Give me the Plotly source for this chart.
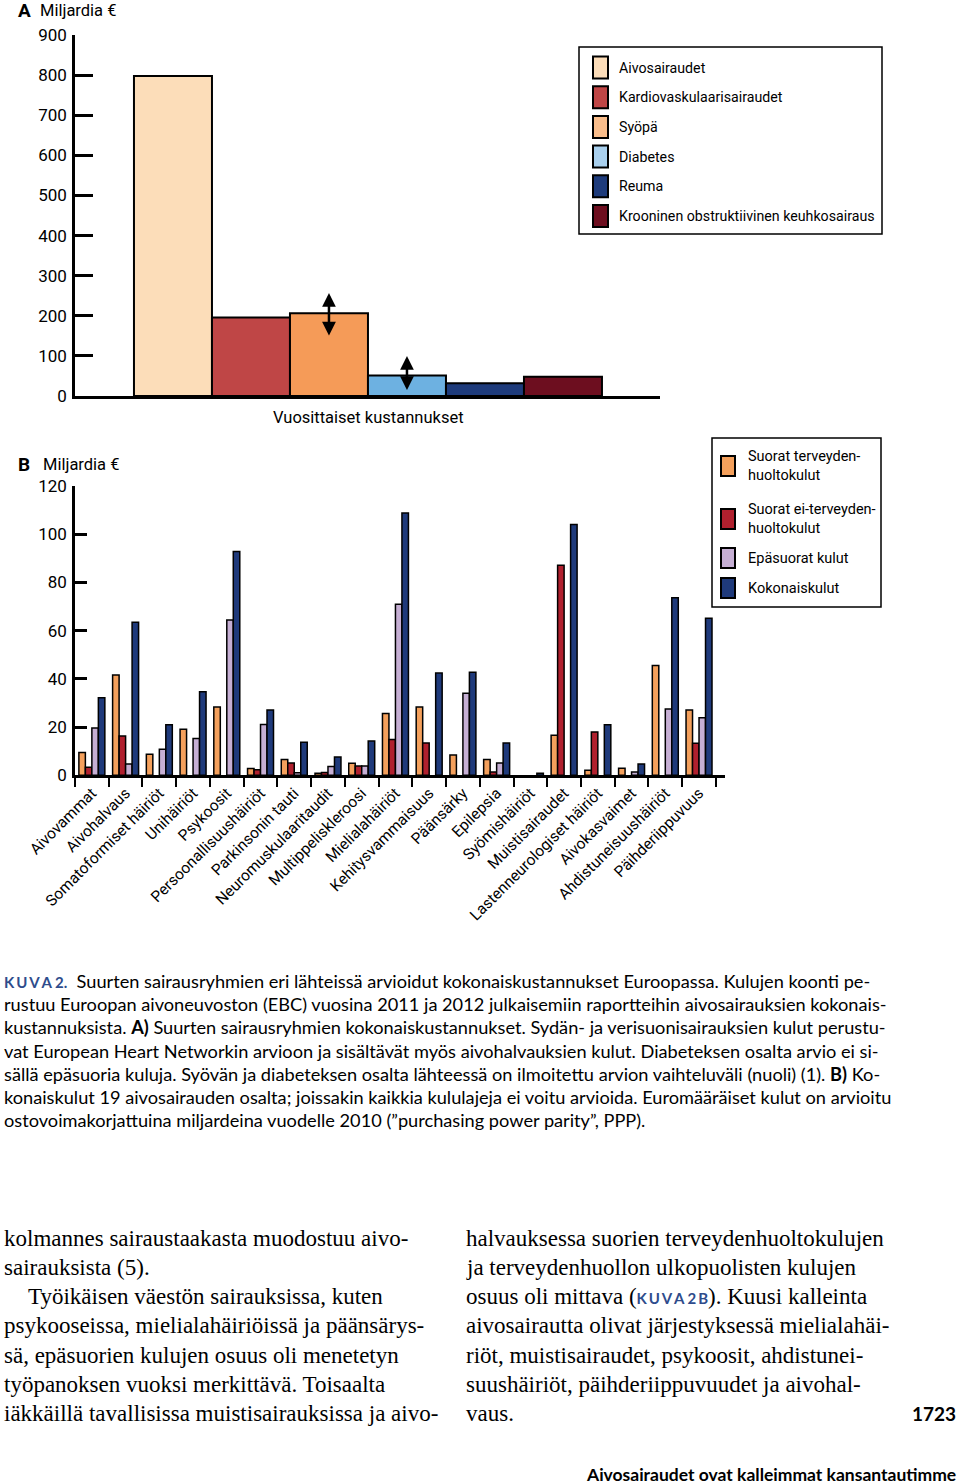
import plotly.graph_objects as go

# ---------------- DATA ----------------
# Panel A
groups_a = ["Aivosairaudet", "Kardiovaskulaarisairaudet", "Syöpä", "Diabetes", "Reuma",
            "Krooninen obstruktiivinen keuhkosairaus"]
annual_costs_a = [798, 196, 206, 51, 32, 48]
range_low_a = [None, None, 147, 11, None, None]
range_high_a = [None, None, 257, 100, None, None]
yticks_a = [0, 100, 200, 300, 400, 500, 600, 700, 800, 900]

# Panel B
categories_b = ["Aivovammat", "Aivohalvaus", "Somatoformiset häiriöt", "Unihäiriöt", "Psykoosit",
                "Persoonallisuushäiriöt", "Parkinsonin tauti", "Neuromuskulaaritaudit",
                "Multippeliskleroosi", "Mielialahäiriöt", "Kehitysvammaisuus", "Päänsärky",
                "Epilepsia", "Syömishäiriöt", "Muistisairaudet", "Lastenneurologiset häiriöt",
                "Aivokasvaimet", "Ahdistuneisuushäiriöt", "Päihderiippuvuus"]
series_b = ["Suorat terveyden-<br>huoltokulut", "Suorat ei-terveyden-<br>huoltokulut",
            "Epäsuorat kulut", "Kokonaiskulut"]
direct_health = [9.5, 41.6, 8.7, 19.1, 28.3, 2.8, 6.6, 0.9, 5.0, 25.6, 28.3, 8.4, 6.6, None,
                 16.6, 2.1, 2.9, 45.5, 27.1]
direct_nonhealth = [3.3, 16.3, None, None, None, 2.3, 5.1, 1.2, 3.9, 14.8, 13.4, None, 1.4, None,
                    87.1, 18.0, None, None, 13.3]
indirect = [19.6, 4.7, 10.8, 15.3, 64.4, 21.1, 1.1, 3.7, 3.9, 71.0, None, 34.0, 5.1, None,
            None, None, 1.4, 27.5, 23.9]
total = [32.2, 63.5, 21.0, 34.7, 92.8, 27.1, 13.7, 7.6, 14.2, 108.8, 42.4, 42.7, 13.4, 0.9,
         104.0, 21.0, 4.7, 73.6, 65.1]
yticks_b = [0, 20, 40, 60, 80, 100, 120]

T = "\u2009"
KUVA = "<b><span style='color:#2E4C8C;font-size:15px'>K" + T + "U" + T + "V" + T + "A " + "2.</span></b>"
caption_lines = [
    KUVA + "  Suurten sairausryhmien eri lähteissä arvioidut kokonaiskustannukset Euroopassa. Kulujen koonti pe-",
    "rustuu Euroopan aivoneuvoston (EBC) vuosina 2011 ja 2012 julkaisemiin raportteihin aivosairauksien kokonais-",
    "kustannuksista. <b>A)</b> Suurten sairausryhmien kokonaiskustannukset. Sydän- ja verisuonisairauksien kulut perustu-",
    "vat European Heart Networkin arvioon ja sisältävät myös aivohalvauksien kulut. Diabeteksen osalta arvio ei si-",
    "sällä epäsuoria kuluja. Syövän ja diabeteksen osalta lähteessä on ilmoitettu arvion vaihteluväli (nuoli) (1). <b>B)</b> Ko-",
    "konaiskulut 19 aivosairauden osalta; joissakin kaikkia kululajeja ei voitu arvioida. Euromääräiset kulut on arvioitu",
    "ostovoimakorjattuina miljardeina vuodelle 2010 (”purchasing power parity”, PPP).",
]
KUVA2B = ("<b><span style='color:#2E4C8C;font-family:Lato;font-size:15px'>K" + T + "U" + T + "V" + T
          + "A 2" + T + "B</span></b>")
body_left = [
    "kolmannes sairaustaakasta muodostuu aivo-",
    "sairauksista (5).",
    "Työikäisen väestön sairauksissa, kuten",
    "psykooseissa, mielialahäiriöissä ja päänsärys-",
    "sä, epäsuorien kulujen osuus oli menetetyn",
    "työpanoksen vuoksi merkittävä. Toisaalta",
    "iäkkäillä tavallisissa muistisairauksissa ja aivo-",
]
body_right = [
    "halvauksessa suorien terveydenhuoltokulujen",
    "ja terveydenhuollon ulkopuolisten kulujen",
    "osuus oli mittava (" + KUVA2B + "). Kuusi kalleinta",
    "aivosairautta olivat järjestyksessä mielialahäi-",
    "riöt, muistisairaudet, psykoosit, ahdistunei-",
    "suushäiriöt, päihderiippuvuudet ja aivohal-",
    "vaus.",
]

# ---------------- STYLE ----------------
W, H = 960, 1484
FC = "Roboto, Liberation Sans, sans-serif"
FCAP = "Lato, Open Sans, sans-serif"
FSERIF = "Liberation Serif, DejaVu Serif, serif"
colors_a = ["#FCDDB9", "#BF4646", "#F59B58", "#6DB1E1", "#1E3B7B", "#6D0E1F"]
legend_colors_a = ["#FCDDB9", "#BF4646", "#F9BD8B", "#A9D0EE", "#1E3B7B", "#6D0E1F"]
colors_b = ["#F4A05C", "#B0202E", "#C6AFD4", "#1F3A7B"]


def px(x):
    return x / W


def py(y):
    return 1 - y / H


fig = go.Figure()

# Panel A bars
fig.add_trace(go.Bar(
    x=list(range(len(groups_a))), y=annual_costs_a, width=1,
    marker=dict(color=colors_a, line=dict(color="black", width=2)),
    xaxis="x", yaxis="y", showlegend=False, hoverinfo="skip",
))

# Panel B bars
for name, vals, col in zip(series_b, [direct_health, direct_nonhealth, indirect, total], colors_b):
    fig.add_trace(go.Bar(
        x=categories_b, y=vals, name=name,
        marker=dict(color=col, line=dict(color="black", width=1.5)),
        xaxis="x2", yaxis="y2", showlegend=False, hoverinfo="skip",
    ))

annotations = []
shapes = []

# arrows (ranges) in panel A
for i, (lo, hi) in enumerate(zip(range_low_a, range_high_a)):
    if lo is None:
        continue
    annotations.append(dict(
        x=i, y=hi, ax=i, ay=lo, xref="x", yref="y", axref="x", ayref="y",
        text="", showarrow=True, arrowhead=2, arrowside="end+start",
        arrowsize=1.1, arrowwidth=2.5, arrowcolor="black",
    ))


def txt(x, y, s, size=16, family=FC, xanchor="left", color="black", yanchor="middle"):
    annotations.append(dict(x=px(x), y=py(y), xref="paper", yref="paper", text=s,
                            showarrow=False, xanchor=xanchor, yanchor=yanchor, align="left",
                            font=dict(family=family, size=size, color=color)))


txt(16, 11, "<b>A</b>", size=19)
txt(38, 11, "Miljardia €", size=16.5)
txt(368, 417, "Vuosittaiset kustannukset", size=16.5, xanchor="center")
txt(16, 464, "<b>B</b>", size=19)
txt(41, 464, "Miljardia €", size=16.5)

# Legend A
shapes.append(dict(type="rect", xref="paper", yref="paper", x0=px(579), x1=px(882),
                   y0=py(47), y1=py(234), line=dict(color="black", width=1.5)))
for k, (name, col) in enumerate(zip(groups_a, legend_colors_a)):
    cy = 67.5 + k * 29.7
    shapes.append(dict(type="rect", xref="paper", yref="paper", x0=px(593), x1=px(608),
                       y0=py(cy - 11), y1=py(cy + 11), fillcolor=col,
                       line=dict(color="black", width=2)))
    txt(617, cy, name, size=14.2)

# Legend B
shapes.append(dict(type="rect", xref="paper", yref="paper", x0=px(712), x1=px(881),
                   y0=py(438), y1=py(607), line=dict(color="black", width=1.5)))
leg_b_centers = [466, 519, 558, 588]
for name, col, cy in zip(series_b, colors_b, leg_b_centers):
    shapes.append(dict(type="rect", xref="paper", yref="paper", x0=px(721), x1=px(735),
                       y0=py(cy - 10), y1=py(cy + 10), fillcolor=col,
                       line=dict(color="black", width=2)))
    txt(746, cy, name, size=14.5)

# Caption
for i, line in enumerate(caption_lines):
    txt(2, 981 + i * 23.2, line, size=18.2, family=FCAP)

# Body text
for i, line in enumerate(body_left):
    x0 = 26 if i == 2 else 2
    txt(x0, 1238 + i * 29.3, line, size=23, family=FSERIF)
for i, line in enumerate(body_right):
    txt(464, 1238 + i * 29.3, line, size=23, family=FSERIF)

txt(958, 1413, "<b>1723</b>", size=19, family=FCAP, xanchor="right")
txt(958, 1474, "<b>Aivosairaudet ovat kalleimmat kansantautimme</b>", size=17.5,
    family=FCAP, xanchor="right")

fig.update_layout(
    width=W, height=H, margin=dict(l=0, r=0, t=0, b=0),
    paper_bgcolor="white", plot_bgcolor="white",
    barmode="group", bargap=0.23, bargroupgap=0,
    font=dict(family=FC, size=16, color="black"),
    xaxis=dict(domain=[px(75), px(660)], range=[-1.256, 6.244], anchor="y",
               showline=True, linecolor="black", linewidth=2.5, showticklabels=False,
               ticks="", showgrid=False, zeroline=False, fixedrange=True),
    yaxis=dict(domain=[py(396), py(35)], range=[0, 900], anchor="x",
               tickvals=yticks_a, showline=True, linecolor="black", linewidth=2.5,
               ticks="inside", ticklen=18, tickwidth=2.5, tickcolor="black",
               tickfont=dict(family=FC, size=17), ticklabelstandoff=2,
               showgrid=False, zeroline=False, automargin=False),
    xaxis2=dict(domain=[px(75), px(725)], range=[-0.5, 18.77], anchor="y2",
                type="category", categoryorder="array", categoryarray=categories_b,
                showline=True, linecolor="black", linewidth=2.5,
                ticks="outside", tickson="boundaries", ticklen=9, tickwidth=2,
                tickcolor="black", tickangle=-45, tickfont=dict(family=FC, size=15.5),
                showgrid=False, zeroline=False, automargin=False),
    yaxis2=dict(domain=[py(775.3), py(486)], range=[0, 120], anchor="x2",
                tickvals=yticks_b, showline=True, linecolor="black", linewidth=2.5,
                ticks="inside", ticklen=12, tickwidth=2.5, tickcolor="black",
                tickfont=dict(family=FC, size=17), ticklabelstandoff=2,
                showgrid=False, zeroline=False, automargin=False),
    annotations=annotations, shapes=shapes,
)

fig.write_html("out.html", config={"displayModeBar": False},
               post_script="document.body.style.margin='0';document.body.style.padding='0';")
